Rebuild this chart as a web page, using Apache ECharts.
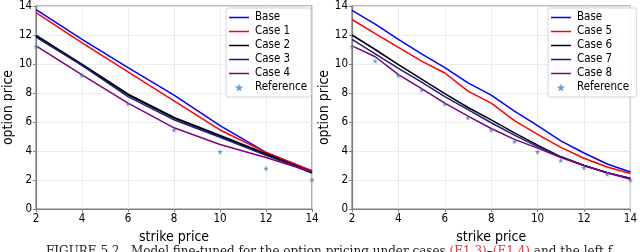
<!DOCTYPE html>
<html><head><meta charset="utf-8">
<script src="https://cdn.jsdelivr.net/npm/echarts@6/dist/echarts.min.js"></script>
<style>html,body{margin:0;padding:0;background:#fff;}#c{width:640px;height:252px;}</style>
</head><body><div id="c"></div>
<script>
// ---- data ----
const xLeft = [2, 4, 6, 8, 10, 12, 14];
const leftBase  = [13.75, 11.7, 9.75, 7.85, 5.75, 3.9, 2.6];
const leftCase1 = [13.55, 11.45, 9.45, 7.45, 5.45, 3.9, 2.65];
const leftCase2 = [11.95, 9.95, 7.9, 6.3, 5.05, 3.8, 2.5];
const leftCase3 = [11.85, 9.9, 7.75, 6.15, 4.95, 3.7, 2.55];
const leftCase4 = [11.25, 9.25, 7.3, 5.6, 4.45, 3.55, 2.55];
const leftRef   = [11.2, 9.2, 7.25, 5.45, 3.95, 2.8, 2.0];

const xRight = [2, 3, 4, 5, 6, 7, 8, 9, 10, 11, 12, 13, 14];
const rightBase  = [13.7, 12.75, 11.7, 10.7, 9.75, 8.7, 7.85, 6.75, 5.75, 4.7, 3.86, 3.1, 2.55];
const rightCase5 = [13.07, 12.1, 11.15, 10.2, 9.38, 8.13, 7.3, 6.1, 5.15, 4.25, 3.5, 2.9, 2.45];
const rightCase6 = [12.0, 11.0, 9.95, 8.95, 7.95, 7.0, 6.15, 5.25, 4.4, 3.6, 3.0, 2.5, 2.1];
const rightCase7 = [11.7, 10.7, 9.7, 8.75, 7.75, 6.85, 5.95, 5.1, 4.3, 3.6, 3.0, 2.5, 2.12];
const rightCase8 = [11.25, 10.5, 9.27, 8.3, 7.3, 6.4, 5.55, 4.8, 4.2, 3.55, 3.0, 2.5, 2.05];
const rightRef   = [11.2, 10.2, 9.2, 8.2, 7.25, 6.3, 5.45, 4.65, 3.95, 3.35, 2.85, 2.4, 2.0];

const leftNames  = ['Base', 'Case 1', 'Case 2', 'Case 3', 'Case 4', 'Reference'];
const rightNames = ['Base ', 'Case 5', 'Case 6', 'Case 7', 'Case 8', 'Reference '];

// ---- chart ----
const pairs = (xs, ys) => xs.map((x, i) => [x, ys[i]]);
const STAR = 'path://M50,0 L61,35 L98,35 L68,57 L79,91 L50,70 L21,91 L32,57 L2,35 L39,35 Z';
const LINEICON = 'path://M0,0 L0.01,0 L0.01,0.01 Z M0,3.2 L20,3.2 L20,4.8 L0,4.8 Z M19.99,7.99 L20,8 L19.99,8 Z';
const FONT = 'DejaVu Sans Condensed';
const frame = '#7f7f7f';

function xAxis(gi) {
  return {
    type: 'value', gridIndex: gi, min: 2, max: 14, interval: 2,
    name: 'strike price', nameLocation: 'middle', nameGap: 12,
    nameTextStyle: { fontFamily: FONT, fontSize: 14, color: '#000' },
    axisLine: { show: true, onZero: false, lineStyle: { color: frame, width: 1.2 } },
    axisTick: { show: true, length: 3, lineStyle: { color: frame } },
    axisLabel: { fontFamily: FONT, fontSize: 11.5, color: '#000', margin: 4 },
    splitLine: { show: true, lineStyle: { color: '#e6e6e6', width: 0.8 } }
  };
}
function yAxis(gi) {
  return {
    type: 'value', gridIndex: gi, min: 0, max: 14, interval: 2,
    name: 'option price', nameLocation: 'middle', nameGap: 20, nameRotate: 90,
    nameTextStyle: { fontFamily: FONT, fontSize: 14, color: '#000' },
    axisLine: { show: true, onZero: false, lineStyle: { color: frame, width: 1.2 } },
    axisTick: { show: true, length: 3, lineStyle: { color: frame } },
    axisLabel: { fontFamily: FONT, fontSize: 11.5, color: '#000', margin: 4 },
    splitLine: { show: true, lineStyle: { color: '#e6e6e6', width: 0.8 } }
  };
}
function line(name, xs, ys, color, gi, w) {
  return {
    type: 'line', name, xAxisIndex: gi, yAxisIndex: gi, data: pairs(xs, ys),
    symbol: 'none', lineStyle: { color, width: w || 1.5 }, itemStyle: { color },
    animation: false, z: 3
  };
}
function ref(name, xs, ys, gi) {
  return {
    type: 'scatter', name, xAxisIndex: gi, yAxisIndex: gi, data: pairs(xs, ys),
    symbol: STAR, symbolSize: 5.5, itemStyle: { color: '#3a86c4' }, animation: false, z: 4
  };
}
function legend(left, names) {
  return {
    orient: 'vertical', left, top: 8, itemWidth: 20, itemHeight: 8, itemGap: 1,
    padding: [3, 4, 3, 3], borderColor: '#d4d4d4', borderWidth: 1, borderRadius: 2,
    backgroundColor: 'rgba(255,255,255,0.85)',
    textStyle: { fontFamily: FONT, fontSize: 11.5, lineHeight: 13, color: '#000', padding: [0, 0, 0, 1] },
    data: names.map(n => n.trim() === 'Reference' ? { name: n, icon: STAR } : { name: n, icon: LINEICON })
  };
}

const chart = echarts.init(document.getElementById('c'), null, { renderer: 'canvas' });
chart.setOption({
  animation: false,
  backgroundColor: '#fff',
  grid: [
    { left: 31, top: 4, width: 281, height: 205, show: true, borderColor: frame, borderWidth: 1.2 },
    { left: 352, top: 4, width: 281, height: 205, show: true, borderColor: frame, borderWidth: 1.2 }
  ],
  xAxis: [xAxis(0), xAxis(1)],
  yAxis: [yAxis(0), yAxis(1)],
  legend: [legend(226, leftNames), legend(548, rightNames)],
  series: [
    line('Base', xLeft, leftBase, '#0000ff', 0),
    line('Case 1', xLeft, leftCase1, '#ff0000', 0),
    line('Case 2', xLeft, leftCase2, '#000000', 0, 2.2),
    line('Case 3', xLeft, leftCase3, '#1a1a8c', 0),
    line('Case 4', xLeft, leftCase4, '#800080', 0),
    ref('Reference', xLeft, leftRef, 0),
    line('Base ', xRight, rightBase, '#0000ff', 1),
    line('Case 5', xRight, rightCase5, '#ff0000', 1),
    line('Case 6', xRight, rightCase6, '#000000', 1),
    line('Case 7', xRight, rightCase7, '#1a1a8c', 1),
    line('Case 8', xRight, rightCase8, '#800080', 1),
    ref('Reference ', xRight, rightRef, 1)
  ],
  graphic: [{
    type: 'text', left: 46, top: 246,
    style: {
      text: '{n|FIGURE 5.2.  Model fine-tuned for the option pricing under cases }{r|(E1.3)}{n|–}{r|(E1.4)}{n| and the left f}',
      rich: {
        n: { fontFamily: 'DejaVu Serif', fontSize: 12, fill: '#222' },
        r: { fontFamily: 'DejaVu Serif', fontSize: 12, fill: '#e33' }
      }
    }
  }]
});
</script></body></html>
